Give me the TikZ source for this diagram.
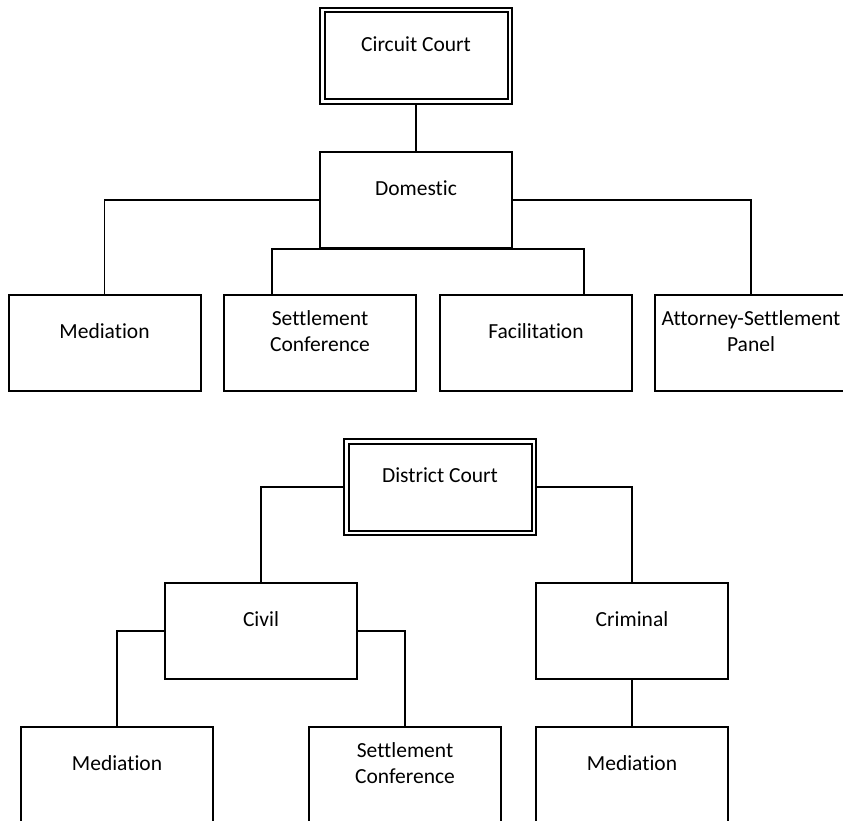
\documentclass[tikz,border=0pt]{standalone}
\usepackage{fontspec}
\setmainfont[Ligatures=CommonOff]{Carlito}
\usetikzlibrary{backgrounds}
\begin{document}
\begin{tikzpicture}[x=1pt,y=-1pt,
  box/.style={draw, fill=white, line width=2pt, minimum width=192pt, minimum height=96pt, inner sep=0pt},
  dbox/.style={draw, fill=white, double, double distance=2.5pt, line width=2pt, minimum width=187.5pt, minimum height=91.5pt, inner sep=0pt},
  txt/.style={font=\fontsize{21.5pt}{26pt}\selectfont, align=center, yshift=12pt},
  conn/.style={line width=1.7pt}]
\useasboundingbox (0,0) rectangle (843,821);
% top chart
\node[dbox, label={[txt]center:Circuit Court}] (cc) at (416,56) {};
\node[box, label={[txt]center:Domestic}] (dom) at (416,200) {};
\node[box, label={[txt]center:Mediation}] (med1) at (104.5,343) {};
\node[box, label={[txt]center:Settlement\\Conference}] (set1) at (320,343) {};
\node[box, label={[txt]center:Facilitation}] (fac) at (536,343) {};
\node[box, label={[txt]center:Attorney-Settlement\\Panel}] (att) at (751,343) {};
% bottom chart
\node[dbox, label={[txt]center:District Court}] (dc) at (440,487) {};
\node[box, label={[txt]center:Civil}] (civ) at (261,631) {};
\node[box, label={[txt]center:Criminal}] (crim) at (632,631) {};
\node[box, label={[txt]center:Mediation}] (med2) at (117,775) {};
\node[box, label={[txt]center:Settlement\\Conference}] (set2) at (405,775) {};
\node[box, label={[txt]center:Mediation}] (med3) at (632,775) {};
\begin{pgfonlayer}{background}
\draw[conn] (cc.south) -- (dom.north);
\draw[conn] (dom.west) -| (med1.north);
\draw[conn] (dom.east) -| (att.north);
\draw[conn] ([xshift=-48pt]set1.north) |- (dom.south) -| ([xshift=48pt]fac.north);
\draw[conn] (dc.west) -| (civ.north);
\draw[conn] (dc.east) -| (crim.north);
\draw[conn] (civ.west) -| (med2.north);
\draw[conn] (civ.east) -| (set2.north);
\draw[conn] (crim.south) -- (med3.north);
\end{pgfonlayer}
\end{tikzpicture}
\end{document}
